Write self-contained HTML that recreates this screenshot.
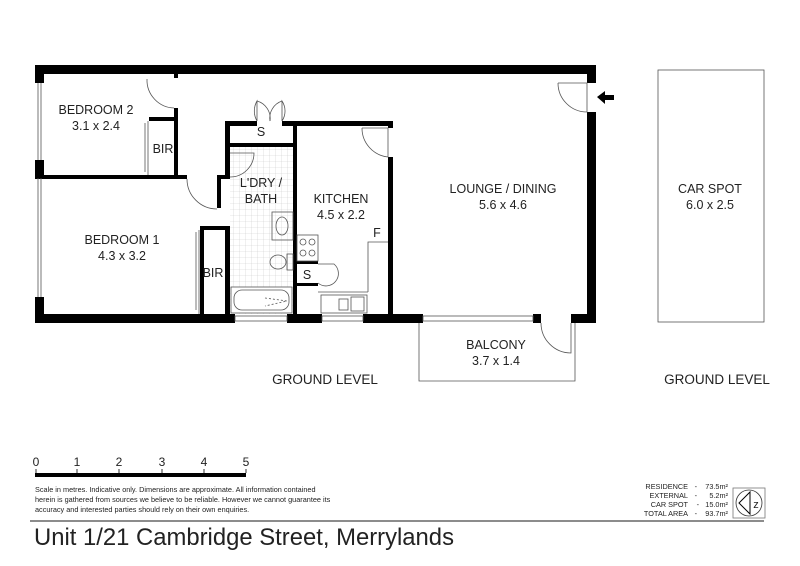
<!DOCTYPE html>
<html><head><meta charset="utf-8"><style>
html,body{margin:0;padding:0;background:#fff;width:800px;height:566px;overflow:hidden}
svg{display:block}
text{font-family:"Liberation Sans","DejaVu Sans",sans-serif;fill:#222}
</style></head><body>
<svg width="800" height="566" viewBox="0 0 800 566" xmlns="http://www.w3.org/2000/svg">
<defs>
<pattern id="tile" width="6" height="6" patternUnits="userSpaceOnUse">
<path d="M6 0V6M0 6H6" stroke="#ccc" stroke-width="0.6" fill="none"/>
</pattern>
</defs>
<rect x="230" y="146" width="63" height="168" fill="url(#tile)"/>

<g fill="#000">
<rect x="35" y="65" width="561" height="9"/>
<rect x="35" y="65" width="9" height="18"/>
<rect x="35" y="160" width="9" height="18"/>
<rect x="35" y="297" width="9" height="26"/>
<rect x="35" y="314" width="200" height="9"/>
<rect x="287" y="314" width="35" height="9"/>
<rect x="363" y="314" width="60" height="9"/>
<rect x="533" y="314" width="8" height="9"/>
<rect x="571" y="314" width="25" height="9"/>
<rect x="587" y="65" width="9" height="18"/>
<rect x="587" y="112" width="9" height="211"/>
<rect x="35" y="175" width="152" height="4"/>
<rect x="217" y="175" width="13" height="4"/>
<rect x="217" y="175" width="4" height="33"/>
<rect x="174" y="74" width="4" height="4"/>
<rect x="174" y="108" width="4" height="70"/>
<rect x="149" y="117" width="29" height="4"/>
<rect x="225" y="121" width="32" height="5"/>
<rect x="282" y="121" width="111" height="5"/>
<rect x="225" y="121" width="5" height="57"/>
<rect x="225" y="226" width="5" height="97"/>
<rect x="200" y="226" width="25" height="4"/>
<rect x="200" y="226" width="4" height="97"/>
<rect x="230" y="143" width="63" height="4"/>
<rect x="293" y="121" width="4" height="202"/>
<rect x="388" y="121" width="5" height="7"/>
<rect x="388" y="157" width="5" height="166"/>
<rect x="293" y="261" width="25" height="3"/>
<rect x="293" y="283" width="25" height="3"/>
<polygon points="597,97 605,91 605,95 614,95 614,100 605,100 605,104"/>
</g>

<g fill="none" stroke="#555" stroke-width="0.8">
<line x1="38" y1="83" x2="38" y2="160"/><line x1="41" y1="83" x2="41" y2="160"/>
<line x1="38" y1="178" x2="38" y2="297"/><line x1="41" y1="178" x2="41" y2="297"/>
<rect x="235" y="316" width="52" height="5"/>
<rect x="322" y="316" width="41" height="5"/>
<rect x="423" y="316" width="110" height="5"/>
<line x1="145" y1="123" x2="145" y2="172"/><line x1="148" y1="121" x2="148" y2="175"/>
<line x1="196" y1="232" x2="196" y2="310"/><line x1="199" y1="230" x2="199" y2="314"/>
<path d="M147 79 A28 28 0 0 0 174 108"/>
<path d="M187 179 A30 30 0 0 0 217 209"/>
<path d="M230 177 A24 24 0 0 0 254 153 L230 153"/>
<path d="M257 121 V101 A20 20 0 0 0 257 121 M257 101 A18 18 0 0 1 270 121"/>
<path d="M282 121 V101 A18 18 0 0 1 282 121 M282 101 A18 18 0 0 0 270 121"/>
<path d="M362 128 H388 V157 A29 29 0 0 1 362 128"/>
<path d="M558 83 H587 V112 A29 29 0 0 1 558 83"/>
<path d="M541 323 A30 30 0 0 0 571 353 V323"/>
<path d="M318 264 H334 A11 11 0 0 1 318 283"/>
<path d="M419 323 V381 H575 V323"/>
<rect x="658" y="70" width="106" height="252"/>
<path d="M368 292 V242 H388"/>
<path d="M318 292 H368"/>
<rect x="297" y="235" width="21" height="26"/>
<circle cx="303" cy="242" r="3"/><circle cx="312" cy="242" r="3"/>
<circle cx="303" cy="253" r="3"/><circle cx="312" cy="253" r="3"/>
<rect x="321" y="295" width="46" height="18"/>
<rect x="339" y="299" width="9" height="11"/>
<rect x="351" y="297" width="13" height="14"/>
<rect x="272" y="212" width="21" height="28"/>
<ellipse cx="282" cy="226" rx="6" ry="9"/>
<ellipse cx="278" cy="262" rx="8" ry="7"/>
<rect x="287" y="254" width="6" height="16"/>
<rect x="231" y="287" width="61" height="26" fill="#fff"/>
<rect x="234" y="290" width="55" height="20" rx="8"/>
<path d="M265 298 L287 301 L265 306" stroke-dasharray="2 2"/>
</g>

<g font-size="12.5" text-anchor="middle">
<text x="96" y="114">BEDROOM 2</text>
<text x="96" y="130">3.1 x 2.4</text>
<text x="163" y="153">BIR</text>
<text x="122" y="244">BEDROOM 1</text>
<text x="122" y="260">4.3 x 3.2</text>
<text x="213" y="277">BIR</text>
<text x="261" y="136">S</text>
<text x="261" y="187">L'DRY /</text>
<text x="261" y="203">BATH</text>
<text x="341" y="203">KITCHEN</text>
<text x="341" y="219">4.5 x 2.2</text>
<text x="377" y="237">F</text>
<text x="307" y="279">S</text>
<text x="503" y="193">LOUNGE / DINING</text>
<text x="503" y="209">5.6 x 4.6</text>
<text x="710" y="193">CAR SPOT</text>
<text x="710" y="209">6.0 x 2.5</text>
<text x="496" y="349">BALCONY</text>
<text x="496" y="365">3.7 x 1.4</text>
<text x="325" y="384" font-size="13.5">GROUND LEVEL</text>
<text x="717" y="384" font-size="13.5">GROUND LEVEL</text>
</g>

<g font-size="12" text-anchor="middle">
<text x="36" y="466">0</text><text x="77" y="466">1</text><text x="119" y="466">2</text>
<text x="162" y="466">3</text><text x="204" y="466">4</text><text x="246" y="466">5</text>
</g>
<rect x="35" y="473" width="211" height="4" fill="#000"/>
<g stroke="#000" stroke-width="0.8"><line x1="36" y1="469" x2="36" y2="473"/><line x1="77" y1="469" x2="77" y2="473"/><line x1="119" y1="469" x2="119" y2="473"/><line x1="162" y1="469" x2="162" y2="473"/><line x1="204" y1="469" x2="204" y2="473"/><line x1="246" y1="469" x2="246" y2="473"/></g>
<g font-size="7.3">
<text x="35" y="492">Scale in metres. Indicative only. Dimensions are approximate. All information contained</text>
<text x="35" y="502">herein is gathered from sources we believe to be reliable. However we cannot guarantee its</text>
<text x="35" y="512">accuracy and interested parties should rely on their own enquiries.</text>
</g>
<g font-size="7.3" text-anchor="end">
<text x="688" y="489">RESIDENCE</text><text x="688" y="498">EXTERNAL</text><text x="688" y="507">CAR SPOT</text><text x="688" y="516">TOTAL AREA</text>
<text x="697" y="489">-</text><text x="697" y="498">-</text><text x="699" y="507">-</text><text x="697" y="516">-</text>
<text x="728" y="489">73.5m²</text><text x="728" y="498">5.2m²</text><text x="728" y="507">15.0m²</text><text x="728" y="516">93.7m²</text>
</g>
<rect x="733" y="488" width="32" height="30" fill="none" stroke="#777" stroke-width="0.8"/>
<circle cx="749" cy="503" r="13" fill="none" stroke="#333" stroke-width="0.8"/>
<path d="M750 492 L739 503 L750 514 Z" fill="none" stroke="#000" stroke-width="1"/>
<text x="756" y="508" font-size="11" text-anchor="middle">z</text>
<line x1="30" y1="521" x2="764" y2="521" stroke="#666" stroke-width="1.5"/>
<text x="34" y="545" font-size="24" textLength="420" lengthAdjust="spacingAndGlyphs">Unit 1/21 Cambridge Street, Merrylands</text>
</svg>
</body></html>
